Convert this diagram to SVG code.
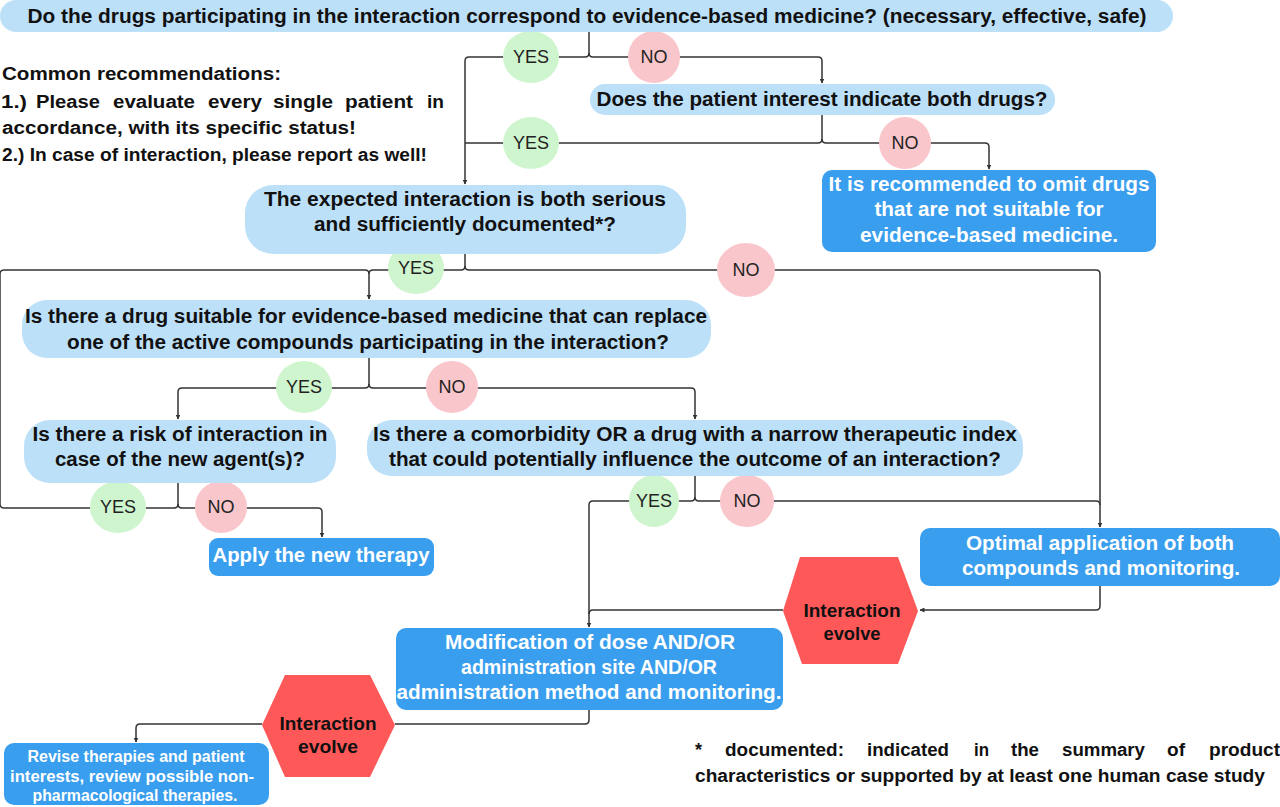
<svg xmlns="http://www.w3.org/2000/svg" width="1280" height="807" viewBox="0 0 1280 807">
<defs>
<style>
.lb{fill:#BDE0F9}
.db{fill:#3A9EEE}
.hx{fill:#FF5858}
.yes{fill:#CFF5CF}
.no{fill:#F9C6CB}
.c{fill:none;stroke:#333;stroke-width:1.5}
.t{font-family:"Liberation Sans Narrow","Liberation Sans",Arial,sans-serif;font-weight:bold;font-size:20px;text-anchor:middle;fill:#111}
.w{fill:#fff}
.s{font-size:16px}
.h{font-size:19px}
.lab{font-family:"Liberation Sans Narrow","Liberation Sans",Arial,sans-serif;font-size:18px;text-anchor:middle;fill:#222}
.l{font-family:"Liberation Sans Narrow","Liberation Sans",Arial,sans-serif;font-weight:bold;font-size:18px;fill:#111}
</style>
<marker id="ar" viewBox="0 0 10 10" refX="9" refY="5" markerWidth="5" markerHeight="5" orient="auto" markerUnits="userSpaceOnUse">
<path d="M0,0L10,5L0,10z" fill="#333"/>
</marker>
</defs>
<rect width="1280" height="807" fill="#fff"/>

<g id="connectors">
<path class="c" d="M589,32V53Q589,57 585,57H469Q465,57 465,61V184" marker-end="url(#ar)"/>
<path class="c" d="M589,53Q589,57 593,57H818Q822,57 822,61V83" marker-end="url(#ar)"/>
<path class="c" d="M822,115V139Q822,143 818,143H465"/>
<path class="c" d="M822,139Q822,143 826,143H985Q989,143 989,147V169" marker-end="url(#ar)"/>
<path class="c" d="M465,254V266Q465,270 461,270H373Q369,270 369,274V299" marker-end="url(#ar)"/>
<path class="c" d="M465,266Q465,270 469,270H1096Q1100,270 1100,274V527" marker-end="url(#ar)"/>
<path class="c" d="M178,483V504Q178,508 174,508H4Q0,508 0,504V274Q0,270 4,270H365Q369,270 369,274"/>
<path class="c" d="M178,504Q178,508 182,508H318Q322,508 322,512V537" marker-end="url(#ar)"/>
<path class="c" d="M369,358V384Q369,388 365,388H182Q178,388 178,392V419" marker-end="url(#ar)"/>
<path class="c" d="M369,384Q369,388 373,388H691Q695,388 695,392V419" marker-end="url(#ar)"/>
<path class="c" d="M695,476V497Q695,501 691,501H593Q589,501 589,505V627" marker-end="url(#ar)"/>
<path class="c" d="M695,497Q695,501 699,501H1096Q1100,501 1100,505"/>
<path class="c" d="M1100,586V606Q1100,610 1096,610H920" marker-end="url(#ar)"/>
<path class="c" d="M783,610H593Q589,610 589,614"/>
<path class="c" d="M589,710V720Q589,724 585,724H395"/>
<path class="c" d="M262,724H140Q136,724 136,728V742" marker-end="url(#ar)"/>
</g>

<g id="labels">
<ellipse class="yes" cx="531" cy="57" rx="28" ry="26"/><text class="lab" x="531" y="63">YES</text>
<ellipse class="no" cx="654" cy="57" rx="26" ry="26"/><text class="lab" x="654" y="63">NO</text>
<ellipse class="yes" cx="531" cy="143" rx="28" ry="26"/><text class="lab" x="531" y="149">YES</text>
<ellipse class="no" cx="905" cy="143" rx="26" ry="26"/><text class="lab" x="905" y="149">NO</text>
<ellipse class="yes" cx="416" cy="268" rx="28" ry="26"/><text class="lab" x="416" y="274">YES</text>
<ellipse class="no" cx="746" cy="270" rx="29" ry="27"/><text class="lab" x="746" y="276">NO</text>
<ellipse class="yes" cx="304" cy="387" rx="28" ry="26"/><text class="lab" x="304" y="393">YES</text>
<ellipse class="no" cx="452" cy="387" rx="26" ry="26"/><text class="lab" x="452" y="393">NO</text>
<ellipse class="yes" cx="118" cy="507" rx="28" ry="26"/><text class="lab" x="118" y="513">YES</text>
<ellipse class="no" cx="221" cy="507" rx="26" ry="26"/><text class="lab" x="221" y="513">NO</text>
<ellipse class="yes" cx="654" cy="501" rx="25" ry="26"/><text class="lab" x="654" y="507">YES</text>
<ellipse class="no" cx="747" cy="501" rx="27" ry="26"/><text class="lab" x="747" y="507">NO</text>
</g>

<g id="n-top">
<rect class="lb" x="0" y="0" width="1173" height="32" rx="16"/>
<text class="t" x="587" y="23" textLength="1119" lengthAdjust="spacingAndGlyphs">Do the drugs participating in the interaction correspond to evidence-based medicine? (necessary, effective, safe)</text>
</g>
<g id="n-patient">
<rect class="lb" x="590" y="84" width="465" height="31" rx="15"/>
<text class="t" x="822" y="106" textLength="451" lengthAdjust="spacingAndGlyphs">Does the patient interest indicate both drugs?</text>
</g>
<g id="n-omit">
<rect class="db" x="822" y="170" width="334" height="82" rx="10"/>
<text class="t w" x="989" y="191" textLength="321" lengthAdjust="spacingAndGlyphs">It is recommended to omit drugs</text>
<text class="t w" x="989" y="216" textLength="229" lengthAdjust="spacingAndGlyphs">that are not suitable for</text>
<text class="t w" x="989" y="242" textLength="258" lengthAdjust="spacingAndGlyphs">evidence-based medicine.</text>
</g>
<g id="n-expected">
<rect class="lb" x="245" y="185" width="441" height="69" rx="28"/>
<text class="t" x="465" y="206" textLength="402" lengthAdjust="spacingAndGlyphs">The expected interaction  is both serious</text>
<text class="t" x="465" y="231" textLength="302" lengthAdjust="spacingAndGlyphs">and sufficiently documented*?</text>
</g>
<g id="n-replace">
<rect class="lb" x="22" y="300" width="689" height="58" rx="25"/>
<text class="t" x="366" y="323" textLength="682" lengthAdjust="spacingAndGlyphs">Is there a drug suitable for evidence-based medicine that can replace</text>
<text class="t" x="368" y="349" textLength="602" lengthAdjust="spacingAndGlyphs">one of the active compounds participating in the interaction?</text>
</g>
<g id="n-risk">
<rect class="lb" x="24" y="420" width="312" height="63" rx="26"/>
<text class="t" x="180" y="441" textLength="295" lengthAdjust="spacingAndGlyphs">Is there a risk of interaction in</text>
<text class="t" x="180" y="466" textLength="250" lengthAdjust="spacingAndGlyphs">case of the new agent(s)?</text>
</g>
<g id="n-comorbidity">
<rect class="lb" x="367" y="420" width="656" height="56" rx="25"/>
<text class="t" x="695" y="441" textLength="644" lengthAdjust="spacingAndGlyphs">Is there a comorbidity OR a drug with a  narrow therapeutic index</text>
<text class="t" x="695" y="466" textLength="612" lengthAdjust="spacingAndGlyphs">that could potentially influence the outcome of an interaction?</text>
</g>
<g id="n-apply">
<rect class="db" x="209" y="538" width="225" height="38" rx="9"/>
<text class="t w" x="321" y="562" textLength="217" lengthAdjust="spacingAndGlyphs">Apply the new therapy</text>
</g>
<g id="n-optimal">
<rect class="db" x="920" y="528" width="360" height="58" rx="10"/>
<text class="t w" x="1100" y="550" textLength="268" lengthAdjust="spacingAndGlyphs">Optimal application of both</text>
<text class="t w" x="1101" y="575" textLength="278" lengthAdjust="spacingAndGlyphs">compounds and monitoring.</text>
</g>
<g id="n-evolve1">
<polygon class="hx" points="800,557 898,557 918,611 898,664 802,664 783,611"/>
<text class="t h" x="852" y="617" textLength="97" lengthAdjust="spacingAndGlyphs">Interaction</text>
<text class="t h" x="852" y="640" textLength="57" lengthAdjust="spacingAndGlyphs">evolve</text>
</g>
<g id="n-modification">
<rect class="db" x="396" y="628" width="387" height="82" rx="10"/>
<text class="t w" x="590" y="649" textLength="290" lengthAdjust="spacingAndGlyphs">Modification of dose AND/OR</text>
<text class="t w" x="589" y="674" textLength="256" lengthAdjust="spacingAndGlyphs">administration site AND/OR</text>
<text class="t w" x="589" y="699" textLength="385" lengthAdjust="spacingAndGlyphs">administration method and monitoring.</text>
</g>
<g id="n-evolve2">
<polygon class="hx" points="285,675 370,675 395,725 370,777 285,777 262,725"/>
<text class="t h" x="328" y="730" textLength="97" lengthAdjust="spacingAndGlyphs">Interaction</text>
<text class="t h" x="328" y="753" textLength="60" lengthAdjust="spacingAndGlyphs">evolve</text>
</g>
<g id="n-revise">
<rect class="db" x="4" y="743" width="265" height="62" rx="10"/>
<text class="t w s" x="136" y="762" textLength="217" lengthAdjust="spacingAndGlyphs">Revise therapies and patient</text>
<text class="t w s" x="132" y="782" textLength="244" lengthAdjust="spacingAndGlyphs">interests, review possible non-</text>
<text class="t w s" x="135" y="801" textLength="205" lengthAdjust="spacingAndGlyphs">pharmacological therapies.</text>
</g>

<g id="recommendations">
<text class="l" x="2" y="80" textLength="279" lengthAdjust="spacingAndGlyphs">Common recommendations:</text>
<text class="l" y="108"><tspan x="1" textLength="26" lengthAdjust="spacingAndGlyphs">1.)</tspan><tspan x="36" textLength="64" lengthAdjust="spacingAndGlyphs">Please</tspan><tspan x="113" textLength="82" lengthAdjust="spacingAndGlyphs">evaluate</tspan><tspan x="208" textLength="54" lengthAdjust="spacingAndGlyphs">every</tspan><tspan x="273" textLength="60" lengthAdjust="spacingAndGlyphs">single</tspan><tspan x="345" textLength="68" lengthAdjust="spacingAndGlyphs">patient</tspan><tspan x="427" textLength="17" lengthAdjust="spacingAndGlyphs">in</tspan></text>
<text class="l" x="2" y="134" textLength="354" lengthAdjust="spacingAndGlyphs">accordance, with its specific status!</text>
<text class="l" x="2" y="161" font-size="16" textLength="425" lengthAdjust="spacingAndGlyphs">2.) In case of interaction, please report as well!</text>
</g>

<g id="footnote">
<text class="l" x="695" y="756">*</text>
<text class="l" x="725" y="756" textLength="119" lengthAdjust="spacingAndGlyphs">documented:</text>
<text class="l" x="867" y="756" textLength="82" lengthAdjust="spacingAndGlyphs">indicated</text>
<text class="l" x="974" y="756" textLength="15" lengthAdjust="spacingAndGlyphs">in</text>
<text class="l" x="1011" y="756" textLength="28" lengthAdjust="spacingAndGlyphs">the</text>
<text class="l" x="1062" y="756" textLength="83" lengthAdjust="spacingAndGlyphs">summary</text>
<text class="l" x="1167" y="756" textLength="18" lengthAdjust="spacingAndGlyphs">of</text>
<text class="l" x="1209" y="756" textLength="71" lengthAdjust="spacingAndGlyphs">product</text>
<text class="l" x="695" y="782" textLength="570" lengthAdjust="spacingAndGlyphs">characteristics or supported by at least one human case study</text>
</g>
</svg>
